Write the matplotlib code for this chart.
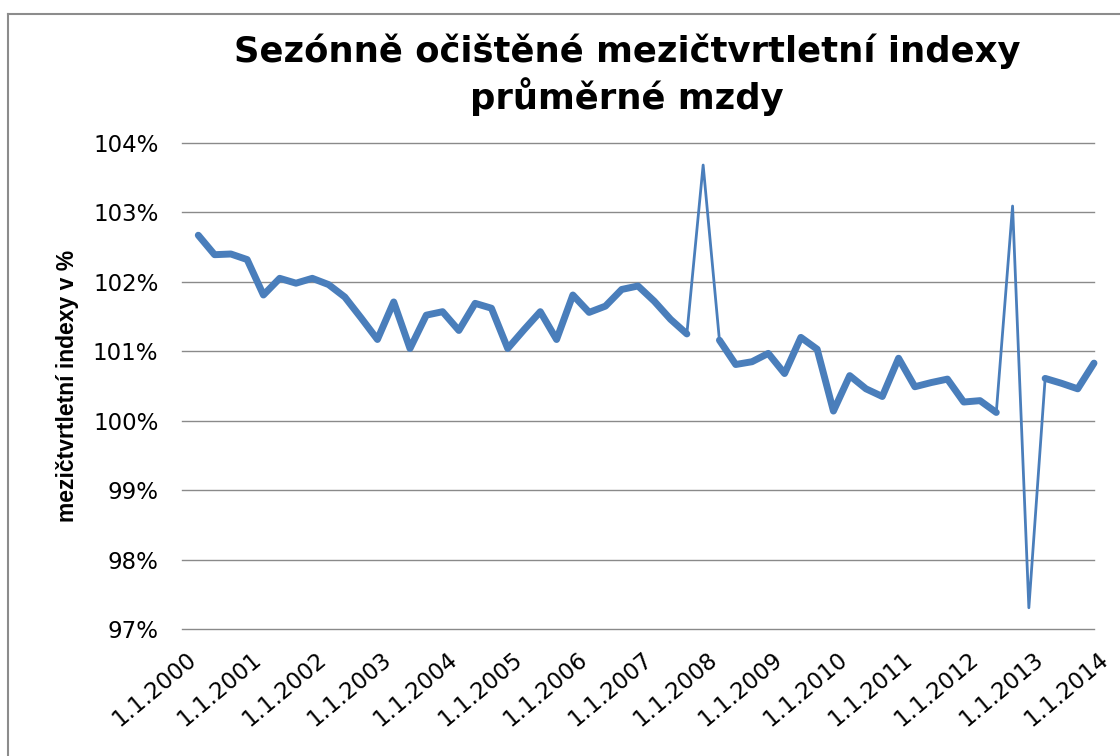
import numpy as np
import matplotlib
matplotlib.use("Agg")
import matplotlib.pyplot as plt
from matplotlib.lines import Line2D
from matplotlib.ticker import FuncFormatter, FixedLocator
from matplotlib.transforms import ScaledTranslation

# ---- data (quarterly, first point = 1.4.2000, last = 1.1.2014) ----
quarter_start = 2000.25
values = [
    102.67, 102.39, 102.40, 102.32, 101.81, 102.05, 101.98, 102.05,
    101.96, 101.78, 101.48, 101.17, 101.71, 101.04, 101.52, 101.57,
    101.30, 101.69, 101.62, 101.04, 101.31, 101.57, 101.17, 101.81,
    101.56, 101.65, 101.89, 101.94, 101.72, 101.46, 101.25, 103.68,
    101.16, 100.81, 100.85, 100.97, 100.68, 101.20, 101.03, 100.14,
    100.65, 100.46, 100.35, 100.90, 100.49, 100.55, 100.60, 100.27,
    100.29, 100.12, 103.09, 97.31, 100.61, 100.54, 100.46, 100.83,
]
outlier_idx = [31, 50, 51]   # quarters drawn only with the thin connecting line
tick_years = list(range(2000, 2015))
tick_labels = [f"1.1.{y}" for y in tick_years]
y_ticks = [97, 98, 99, 100, 101, 102, 103, 104]

title = "Sezónně očištěné mezičtvrtletní indexy\nprůměrné mzdy"
ylabel = "mezičtvrtletní indexy v %"

# ---- derived ----
x = quarter_start + 0.25 * np.arange(len(values))
vals = np.array(values, dtype=float)
thick = vals.copy()
thick[outlier_idx] = np.nan

W, H = 1120, 756
fig = plt.figure(figsize=(W / 100, H / 100), dpi=100)
fig.patch.set_facecolor("white")

left, right = 182, 1094
top, bottom = 142.8, 629.3
ax = fig.add_axes([left / W, 1 - bottom / H, (right - left) / W, (bottom - top) / H])

color = "#4A7EBB"
ax.plot(x, vals, color=color, lw=2.0, solid_joinstyle="round", zorder=3, clip_on=False)
ax.plot(x, thick, color=color, lw=5.0, solid_joinstyle="round",
        solid_capstyle="round", zorder=4, clip_on=False)

ax.set_xlim(2000, 2014)
ax.set_ylim(97, 104)
ax.yaxis.set_major_locator(FixedLocator(y_ticks))
ax.yaxis.set_major_formatter(FuncFormatter(lambda v, p: f"{v:.0f}%"))
ax.set_xticks(tick_years)
ax.set_xticklabels(tick_labels)

ax.grid(axis="y", color="#8a8a8a", lw=1.0)
ax.set_axisbelow(True)
for gl in ax.get_ygridlines():
    gl.set_clip_on(False)
for s in ax.spines.values():
    s.set_visible(False)
ax.tick_params(axis="both", length=0)
ax.tick_params(axis="y", pad=17, labelsize=16.5)
ax.tick_params(axis="x", pad=13, labelsize=16.5)
for lab in ax.get_yticklabels():
    lab.set_fontfamily("DejaVu Sans")
for lab in ax.get_xticklabels():
    lab.set_fontfamily("DejaVu Sans")
    lab.set_rotation(40)
    lab.set_rotation_mode("anchor")
    lab.set_ha("right")
    lab.set_va("top")
    lab.set_transform(lab.get_transform() + ScaledTranslation(4 / 100, 0, fig.dpi_scale_trans))

ax.set_ylabel(ylabel, fontsize=16.5, fontweight="bold", family="Liberation Sans")
ax.yaxis.set_label_coords((79 - left) / (right - left), 0.5)

fig.text(627 / W, 1 - 75 / H, title, ha="center", va="center", fontsize=25.5,
         fontweight="bold", family="DejaVu Sans", linespacing=1.25,
         multialignment="center")

# chart frame
fc = "#8c8c8c"
fig.add_artist(Line2D([8 / W, 8 / W], [0, 1 - 14 / H], transform=fig.transFigure, color=fc, lw=1.5))
fig.add_artist(Line2D([8 / W, 1], [1 - 14 / H, 1 - 14 / H], transform=fig.transFigure, color=fc, lw=1.5))

fig.savefig("out.png", dpi=100)
